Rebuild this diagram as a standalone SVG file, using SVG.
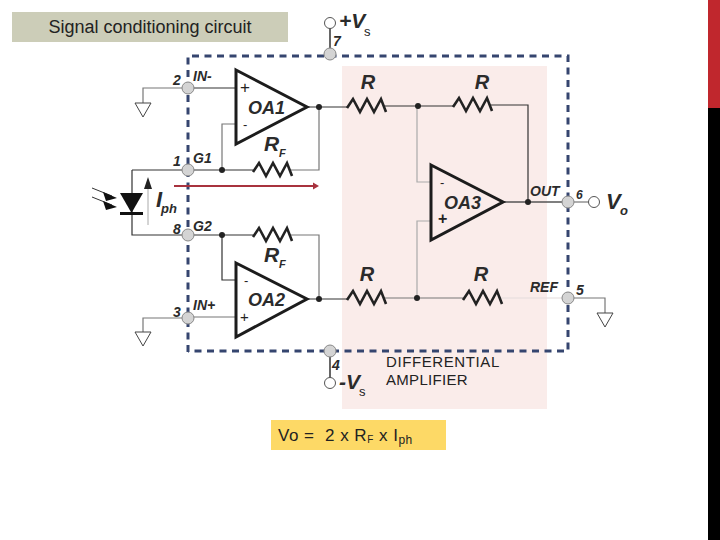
<svg xmlns="http://www.w3.org/2000/svg" width="720" height="540" viewBox="0 0 720 540">
<style>
text{font-family:"Liberation Sans",Arial,sans-serif;fill:#222}
.l{font-weight:bold;font-style:italic;fill:#2b2b2b}
.w{fill:none;stroke:#333;stroke-width:1.2}
.g{fill:none;stroke:#777;stroke-width:1.2}
.r{fill:none;stroke:#222;stroke-width:2.6;stroke-linejoin:miter}
.t{fill:none;stroke:#1c1c1c;stroke-width:3}
.d{fill:#222}
.p{fill:#d4d4d4;stroke:#888;stroke-width:1}
.o{fill:#fff;stroke:#555;stroke-width:1}
.b{fill:none;stroke:#35456f;stroke-width:3;stroke-dasharray:7 5.500}
</style>
<defs>
<path id="res" class="r" d="M0 2L6 -7L13 6L20 -7L27 6L34 -7L39 6"/>
<path id="gnd" fill="#fff" stroke="#444" stroke-width="1" d="M-8 0H8L0 14Z"/>
</defs>
<rect x="708" y="0" width="12" height="108" fill="#c0272d"/>
<rect x="708" y="108" width="12" height="432" fill="#000"/>
<g id="title"><rect x="12" y="12" width="276" height="30" fill="#cccdb8"/><text x="150" y="33" font-size="18" text-anchor="middle" fill="#111">Signal conditioning circuit</text></g>
<rect id="diff-bg" x="342" y="66" width="205" height="343" fill="#faecea"/>
<path id="boundary" class="b" d="M188 352V56H568V351H188"/>
<g id="connectors">
<path stroke="#666" stroke-width="2" fill="none" d="M330 28V49M330 356V378"/>
<path class="g" d="M143 103V88H183"/>
<path class="w" d="M193 88H236"/>
<path class="w" d="M307 107H347"/>
<path class="g" d="M319 107V170H291"/>
<path class="g" d="M222 170V124H236"/>
<path class="w" d="M132 170H183M193 170H253"/>
<path class="w" d="M132 170V235H183M193 235H253"/>
<path class="g" d="M291 235H319V299"/>
<path class="w" d="M222 235V280H236"/>
<path class="g" d="M143 332V318H183"/>
<path class="g" d="M193 317H236"/>
<path class="w" d="M307 299H347"/>
<path class="g" d="M385 298H463"/>
<path stroke="#aaa" stroke-width="1.200" fill="none" d="M417 298V221H431"/>
<path stroke="#aaa" stroke-width="1.200" fill="none" d="M417 106V182H431"/>
<path class="w" d="M385 106H453"/>
<path class="w" d="M491 105H528V202"/>
<path stroke="#555" stroke-width="1.600" fill="none" d="M503 202H563"/>
<path class="g" d="M573 202H589"/>
<path stroke="#e3dcdc" stroke-width="1.200" fill="none" d="M501 298H563"/>
<path class="g" d="M573 298H605V313"/>
<path stroke="#aaa" stroke-width="1" fill="none" d="M148 225V186"/>
<path fill="#222" d="M148 177L152 189H144Z"/>
<path stroke="#a8323e" stroke-width="2" fill="none" d="M174 186H314"/>
<path fill="#a8323e" d="M319 186L313 182.500V189.500Z"/>
<path stroke="#333" stroke-width="1" fill="none" d="M92 188L112 196M92 197L112 205"/>
<path fill="#111" d="M117 198L103 192L106 201ZM117 207L103 201L106 210Z"/>
</g>
<g id="R1"><use href="#res" x="347" y="106"/><text class="l" x="368" y="89" font-size="20" text-anchor="middle">R</text></g>
<g id="R2"><use href="#res" x="453" y="105"/><text class="l" x="482" y="89" font-size="20" text-anchor="middle">R</text></g>
<g id="R3"><use href="#res" x="347" y="298"/><text class="l" x="367" y="281" font-size="20" text-anchor="middle">R</text></g>
<g id="R4"><use href="#res" x="463" y="298"/><text class="l" x="481" y="281" font-size="20" text-anchor="middle">R</text></g>
<g id="RF1"><use href="#res" x="253" y="170"/><text class="l" x="264" y="151" font-size="21">R</text><text class="l" x="279" y="157" font-size="11">F</text></g>
<g id="RF2"><use href="#res" x="253" y="235"/><text class="l" x="264" y="262" font-size="21">R</text><text class="l" x="279" y="268" font-size="11">F</text></g>
<g id="OA1"><path class="t" d="M236 70L307 107L236 144Z"/><text x="240" y="93" font-size="17">+</text><text x="243" y="129" font-size="13">-</text><text class="l" x="248" y="114" font-size="18">OA1</text></g>
<g id="OA2"><path class="t" d="M236 263L307 299L236 337Z"/><text x="240" y="322" font-size="15">+</text><text x="244" y="285" font-size="13">-</text><text class="l" x="248" y="306" font-size="18">OA2</text></g>
<g id="OA3"><path class="t" d="M431 165L503 202L431 240Z"/><text x="438" y="224" font-size="16" font-weight="bold">+</text><text x="440" y="187" font-size="13">-</text><text class="l" x="444" y="209" font-size="18">OA3</text></g>
<g id="dots"><circle class="d" cx="319" cy="107" r="3"/><circle class="d" cx="222" cy="170" r="3"/><circle class="d" cx="222" cy="235" r="3"/><circle class="d" cx="319" cy="299" r="3"/><circle class="d" cx="418" cy="106" r="3"/><circle class="d" cx="417" cy="298" r="3"/><circle class="d" cx="528" cy="202" r="3"/></g>
<g id="photodiode"><path fill="#111" d="M120 193H143L131.500 213Z"/><rect x="120" y="212" width="23" height="3" fill="#111"/><text class="l" x="156" y="207" font-size="22">I</text><text class="l" x="161" y="213" font-size="13">ph</text></g>
<g id="gnd1"><use href="#gnd" x="143" y="103"/></g>
<g id="gnd2"><use href="#gnd" x="143" y="332"/></g>
<g id="gnd3"><use href="#gnd" x="605" y="313"/></g>
<g id="pin2"><circle class="p" cx="188" cy="88" r="6"/><text class="l" x="173" y="85" font-size="14">2</text><text class="l" x="193" y="81" font-size="14">IN-</text></g>
<g id="pin1"><circle class="p" cx="188" cy="170" r="6"/><text class="l" x="173" y="166" font-size="14">1</text><text class="l" x="193" y="163" font-size="14">G1</text></g>
<g id="pin8"><circle class="p" cx="188" cy="235" r="6"/><text class="l" x="173" y="234" font-size="14">8</text><text class="l" x="193" y="231" font-size="14">G2</text></g>
<g id="pin3"><circle class="p" cx="188" cy="318" r="6"/><text class="l" x="173" y="317" font-size="14">3</text><text class="l" x="193" y="310" font-size="14">IN+</text></g>
<g id="pin7"><circle class="p" cx="330" cy="54" r="6"/><circle class="o" cx="330" cy="23" r="5.500"/><text class="l" x="333" y="46" font-size="14">7</text><text class="l" x="339" y="28" font-size="21">+V</text><text x="364" y="36" font-size="13" fill="#333">s</text></g>
<g id="pin4"><circle class="p" cx="330" cy="351" r="6"/><circle class="o" cx="330" cy="383" r="5.500"/><text class="l" x="332" y="370" font-size="14">4</text><text class="l" x="339" y="389" font-size="21">-V</text><text x="359" y="396" font-size="13" fill="#333">s</text></g>
<g id="pin6"><circle class="p" cx="568" cy="202" r="6"/><circle class="o" cx="594" cy="202" r="5.500"/><text class="l" x="530" y="196" font-size="14">OUT</text><text class="l" x="576" y="199" font-size="12">6</text><text class="l" x="606" y="209" font-size="22">V</text><text class="l" x="620" y="215" font-size="13">o</text></g>
<g id="pin5"><circle class="p" cx="568" cy="298" r="6"/><text class="l" x="530" y="292" font-size="14">REF</text><text class="l" x="576" y="295" font-size="14">5</text></g>
<g id="diff-label"><text x="386" y="367" font-size="15" letter-spacing="0.600">DIFFERENTIAL</text><text x="386" y="385" font-size="15" letter-spacing="0.300">AMPLIFIER</text></g>
<g id="formula"><rect x="271" y="420" width="175" height="30" fill="#fdd966"/><text x="278" y="441" font-size="17" letter-spacing="0.500" xml:space="preserve">Vo =  2 x R<tspan font-size="10" dy="2">F</tspan><tspan dy="-2"> x I</tspan><tspan font-size="12" dy="3">ph</tspan></text></g>
</svg>
